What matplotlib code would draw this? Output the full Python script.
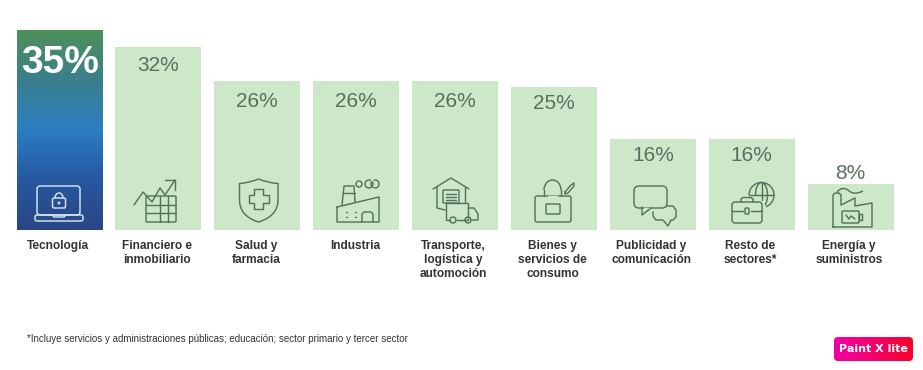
import numpy as np
import matplotlib
matplotlib.use("Agg")
import matplotlib.pyplot as plt
from matplotlib.colors import LinearSegmentedColormap
from matplotlib.patches import Arc, Circle, FancyBboxPatch, PathPatch, Rectangle
from matplotlib.path import Path

# Datos
sectores = ["Tecnología", "Financiero e\ninmobiliario", "Salud y\nfarmacia", "Industria",
            "Transporte,\nlogística y\nautomoción", "Bienes y\nservicios de\nconsumo",
            "Publicidad y\ncomunicación", "Resto de\nsectores*", "Energía y\nsuministros"]
valores = [35, 32, 26, 26, 26, 25, 16, 16, 8]
etiquetas = ["35%", "32%", "26%", "26%", "26%", "25%", "16%", "16%", "8%"]
nota = "*Incluye servicios y administraciones públicas; educación; sector primario y tercer sector"

plt.rcParams["font.family"] = ["Liberation Sans", "DejaVu Sans"]

VERDE = "#cde8c9"
ICONO = "#54745f"
W, H = 923, 370
PASO = 98.875
CENTRO = 59.6
PX_VALOR = 200 / 35

fig = plt.figure(figsize=(W / 100, H / 100), dpi=100)
ax = fig.add_axes([0, 0, 1, 1])

x = np.arange(len(valores))
barras = ax.bar(x, valores, width=86 / PASO, color=VERDE, zorder=1)

# Degradado de la primera barra
cmap = LinearSegmentedColormap.from_list("grad", ["#4f9058", "#3a7f8c", "#2b7dc4", "#27589f", "#2a4684"])
grad = np.linspace(0, 1, 256).reshape(-1, 1)
b0 = barras[0]
img = ax.imshow(grad, extent=(b0.get_x(), b0.get_x() + b0.get_width(), 0, b0.get_height()),
                cmap=cmap, aspect="auto", zorder=2)
img.set_clip_path(b0)

ax.set_xlim(-CENTRO / PASO, (W - CENTRO) / PASO)
ax.set_ylim(-(H - 230) / PX_VALOR, 230 / PX_VALOR)
ax.axis("off")

# Valores encima de cada barra
desplaz = {32: -18, 26: -20, 25: -16, 16: -17, 8: 11}
for i, (v, txt) in enumerate(zip(valores, etiquetas)):
    if i == 0:
        ax.annotate(txt, (i, v), xytext=(0, -33 * 0.72), textcoords="offset points", ha="center",
                    va="center", fontsize=28, fontweight="bold", color="white", zorder=3)
    else:
        ax.annotate(txt, (i, v), xytext=(0, desplaz[v] * 0.72), textcoords="offset points", ha="center",
                    va="center", fontsize=15, color="#55705f", zorder=3)

# Nombres de sector
for i, s in enumerate(sectores):
    ax.annotate(s, (i, 0), xytext=(-1, -10 * 0.72), textcoords="offset points", ha="center", va="top",
                fontsize=8.6, fontweight="bold", color="#333333", linespacing=1.22)

# Capa en pixeles para iconos, nota y marca
px = fig.add_axes([0, 0, 1, 1], facecolor="none")
px.set_xlim(0, W)
px.set_ylim(H, 0)
px.axis("off")


def linea(puntos, color=ICONO):
    xs, ys = zip(*puntos)
    px.plot(xs, ys, color=color, lw=1.05, solid_capstyle="round", solid_joinstyle="round", zorder=5)


def caja(x0, y0, x1, y1, r=0, color=ICONO):
    if r:
        p = FancyBboxPatch((x0 + r, y0 + r), x1 - x0 - 2 * r, y1 - y0 - 2 * r, boxstyle=f"round,pad={r}",
                           fc="none", ec=color, lw=1.05, zorder=5)
    else:
        p = Rectangle((x0, y0), x1 - x0, y1 - y0, fc="none", ec=color, lw=1.05, zorder=5)
    px.add_patch(p)


def circulo(cx, cy, r, color=ICONO):
    px.add_patch(Circle((cx, cy), r, fc="none", ec=color, lw=1.05, zorder=5))


def arco(cx, cy, w, h, a0, a1, color=ICONO):
    px.add_patch(Arc((cx, cy), w, h, theta1=a0, theta2=a1, ec=color, lw=1.05, zorder=5))


def curva(puntos, codigos):
    px.add_patch(PathPatch(Path(puntos, codigos), fc="none", ec=ICONO, lw=1.05, zorder=5))


M, L, Q = Path.MOVETO, Path.LINETO, Path.CURVE3

# Portatil
C = "#d5e4f2"
caja(37, 186, 80, 215, 3, C)
caja(35, 215, 83, 221, 2, C)
caja(52.5, 198, 65.5, 208, 1.5, C)
arco(59, 198, 8, 10, 180, 360, C)
circulo(59, 203, 0.7, C)
linea([(52, 215), (54, 217), (64, 217), (66, 215)], C)

# Grafica y tabla
caja(146, 196, 176, 222, 1)
linea([(146, 205), (176, 205)])
linea([(146, 213), (176, 213)])
linea([(160, 196), (160, 222)])
linea([(168, 196), (168, 222)])
linea([(134, 205), (143, 192), (152, 202), (160, 188), (165, 195), (175, 180)])
linea([(165, 180), (175, 180), (175, 190)])

# Escudo
curva([(258.5, 179), (268, 183), (278, 183.5), (278, 200), (278, 216), (258.5, 222), (239.5, 216),
       (239.5, 200), (239.5, 183.5), (249, 183), (258.5, 179)],
      [M, Q, Q, L, Q, Q, Q, Q, L, Q, Q])
linea([(254, 189), (263, 189), (263, 195), (268.5, 195), (268.5, 203), (263, 203), (263, 209),
       (254, 209), (254, 203), (248.5, 203), (248.5, 195), (254, 195), (254, 189)])

# Fabrica
linea([(337, 207), (379, 197), (379, 222), (337, 222), (337, 207)])
linea([(342, 205), (344, 186), (354, 186), (355, 202)])
linea([(343, 193), (355, 193)])
circulo(359, 184, 3)
circulo(369, 184, 4)
circulo(375, 184, 4)
linea([(371, 180.2), (373, 180.2)], VERDE)
linea([(371, 187.8), (373, 187.8)], VERDE)
linea([(362, 222), (362, 214), (364, 212), (371, 212), (373, 214), (373, 222)])
for a, b in [(346, 212), (355, 212), (346, 217), (355, 217)]:
    linea([(a, b), (a + 1, b)])

# Almacen y camion
linea([(433, 189), (451, 178), (469, 189)])
linea([(437, 187), (437, 208), (445, 210)])
linea([(465, 187), (465, 203)])
caja(443, 190, 459, 203, 1)
for yy in (194, 197, 200):
    linea([(446, yy), (456, yy)])
linea([(450, 220), (446, 220), (446, 203), (468, 203), (468, 220), (457, 220)])
linea([(468, 208), (474, 208), (478, 214), (478, 220), (472, 220)])
circulo(453, 220, 3)
circulo(468, 220, 3)

# Bolsa
caja(535, 196, 571, 222, 2)
linea([(544, 190), (544, 196)])
linea([(561, 190), (561, 196)])
arco(552.5, 190, 17, 20, 180, 360)
caja(546, 204, 560, 214, 1)
linea([(548, 196), (557, 196)], VERDE)
linea([(565, 192), (571, 185), (574, 183), (574, 186), (568, 193), (565, 194), (565, 192)])

# Bocadillos
caja(634, 186, 667, 208, 5)
linea([(644, 208), (650, 208)], VERDE)
linea([(642, 207), (642, 215), (651, 208)])
linea([(667, 206), (673, 206), (676, 210), (676, 217), (673, 220), (671, 220), (668, 226), (663, 220),
       (656, 220), (653, 216), (653, 212)])

# Maletin y globo
caja(732, 202, 762, 223, 3)
linea([(741, 202), (741, 199), (743, 197.5), (751, 197.5), (753, 199), (753, 202)])
linea([(732, 211), (743, 211)])
linea([(751, 211), (762, 211)])
caja(745, 208, 749, 214, 1)
arco(761.5, 195, 25, 25, 180, 430)
arco(761.5, 195, 12, 25, 180, 430)
linea([(761.5, 182.5), (761.5, 200)])
linea([(749, 195), (774, 195)])

# Planta de energia
linea([(833, 227), (833, 195), (835, 193), (839, 193), (841, 195), (841, 205), (855, 198), (855, 206),
       (872, 203), (872, 227), (833, 227)])
caja(842, 211, 859, 223, 1)
caja(859, 214, 862, 220)
linea([(846, 215), (849, 219), (851, 216), (855, 219)])
curva([(837, 192), (842, 186), (848, 190), (853, 196), (863, 191)], [M, Q, Q, Q, Q])

# Nota al pie
px.text(27, 339, nota, fontsize=7.05, color="#333333", ha="left", va="center")

# Marca de agua
marca = FancyBboxPatch((838, 341), 71, 16, boxstyle="round,pad=4", fc="none", ec="none", zorder=6)
px.add_patch(marca)
grad_m = np.linspace(0, 1, 256).reshape(1, -1)
cm_m = LinearSegmentedColormap.from_list("m", ["#f200a8", "#f5006b", "#f7002a"])
im = px.imshow(grad_m, extent=(833, 913, 362, 337), cmap=cm_m, aspect="auto", zorder=6)
im.set_clip_path(marca)
px.set_xlim(0, W)
px.set_ylim(H, 0)
px.text(873, 349, "Paint X lite", fontsize=8, fontweight="bold", family="DejaVu Sans", color="white",
        ha="center", va="center", zorder=7)

fig.savefig("out.png", dpi=100)
